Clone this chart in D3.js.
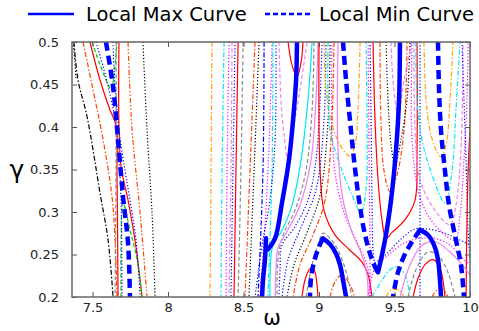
<!DOCTYPE html>
<html>
<head>
<meta charset="utf-8">
<script src="https://cdn.jsdelivr.net/npm/d3@7"></script>
<style>
  body { margin: 0; background: #fff; }
  svg { display: block; }
  text { font-family: "DejaVu Sans", sans-serif; }
</style>
</head>
<body>
<div id="chart"></div>
<script>
// axis settings
const omegaDomain = [7.364, 10];
const gammaDomain = [0.2, 0.5];
const xTicks = [7.5, 8, 8.5, 9, 9.5, 10];
const yTicks = [0.2, 0.25, 0.3, 0.35, 0.4, 0.45, 0.5];
const legendLabels = ["Local Max Curve", "Local Min Curve"];

// thick curves, [omega, gamma]
const maxA = [[8.854,0.5],[8.848,0.455],[8.828,0.408],[8.801,0.361],[8.755,0.311],[8.709,0.269],[8.662,0.256]];
const maxB = [[8.649,0.269],[8.642,0.244],[8.629,0.22],[8.623,0.2]];
const maxC = [[9.026,0.269],[9.073,0.262],[9.113,0.251],[9.139,0.238],[9.159,0.22],[9.179,0.2]];
const maxD = [[9.536,0.5],[9.53,0.432],[9.51,0.373],[9.477,0.314],[9.437,0.267],[9.391,0.229]];
const maxE = [[9.669,0.279],[9.722,0.273],[9.762,0.261],[9.788,0.244],[9.801,0.22],[9.808,0.2]];

const minA = [[7.589,0.5],[7.636,0.447],[7.669,0.385],[7.702,0.318],[7.735,0.264],[7.748,0.2]];
const minB = [[9.026,0.269],[8.993,0.256],[8.967,0.241],[8.947,0.222],[8.94,0.2]];
const minC = [[9.159,0.5],[9.179,0.455],[9.205,0.408],[9.232,0.361],[9.265,0.314],[9.305,0.273],[9.351,0.244],[9.388,0.229]];
const minD = [[9.669,0.279],[9.616,0.265],[9.563,0.248],[9.523,0.229],[9.49,0.2]];
const minE = [[9.788,0.5],[9.795,0.444],[9.808,0.396],[9.834,0.349],[9.861,0.308],[9.907,0.267],[9.94,0.238],[9.96,0.2]];

// thin level curves - left group
const leftK1 = [[7.371,0.5],[7.384,0.476],[7.39,0.455]];
const leftK2 = [[7.377,0.5],[7.404,0.455],[7.464,0.412],[7.55,0.322],[7.603,0.267],[7.636,0.2]];
const leftO1 = [[7.437,0.5],[7.503,0.444],[7.57,0.385],[7.629,0.318],[7.649,0.267],[7.662,0.2]];
const leftR1 = [[7.483,0.5],[7.55,0.455],[7.616,0.42],[7.656,0.402],[7.662,0.349],[7.669,0.2]];
const leftR2 = [[7.675,0.5],[7.675,0.402],[7.689,0.353],[7.735,0.314],[7.781,0.267],[7.828,0.2]];
const leftG1 = [[7.497,0.5],[7.55,0.473],[7.596,0.453],[7.623,0.444],[7.642,0.461],[7.662,0.5]];
const leftG2 = [[7.689,0.2],[7.689,0.267],[7.702,0.311],[7.748,0.279],[7.795,0.244],[7.828,0.2]];
const leftB1 = [[7.523,0.5],[7.576,0.467],[7.616,0.438],[7.649,0.408],[7.675,0.361],[7.689,0.314],[7.695,0.2]];
const leftB2 = [[7.636,0.5],[7.642,0.467],[7.656,0.432],[7.675,0.396],[7.715,0.349],[7.748,0.314],[7.788,0.267],[7.815,0.2]];
const leftGr = [[7.656,0.5],[7.656,0.373],[7.649,0.2]];
const leftO2 = [[7.735,0.5],[7.762,0.396],[7.815,0.299],[7.861,0.2]];
const leftK3 = [[7.834,0.5],[7.861,0.396],[7.894,0.299],[7.914,0.2]];

// middle group, almost vertical
const midY1 = [[8.291,0.5],[8.285,0.349],[8.278,0.2]];
const midC1 = [[8.371,0.5],[8.358,0.349],[8.351,0.2]];
const midM1 = [[8.404,0.5],[8.391,0.349],[8.384,0.2]];
const midV1 = [[8.424,0.5],[8.417,0.349],[8.404,0.2]];
const midB1 = [[8.444,0.5],[8.43,0.349],[8.417,0.2]];
const midR1 = [[8.464,0.5],[8.45,0.349],[8.437,0.2]];
const midGr = [[8.497,0.5],[8.483,0.349],[8.464,0.2]];
const midO1 = [[8.576,0.5],[8.543,0.349],[8.51,0.2]];
const midK1 = [[8.603,0.5],[8.57,0.349],[8.536,0.2]];
const midB2 = [[8.636,0.5],[8.629,0.349],[8.596,0.2]];
const midM2 = [[8.689,0.5],[8.675,0.408],[8.662,0.349],[8.636,0.267],[8.609,0.2]];
const midC2 = [[8.695,0.5],[8.689,0.349],[8.675,0.267],[8.662,0.2]];
const midB3 = [[8.715,0.5],[8.709,0.385],[8.675,0.314],[8.623,0.261],[8.576,0.2]];

// around maxA and the saddle near 9
const sadR1 = [[8.795,0.5],[8.821,0.473],[8.854,0.459],[8.881,0.476],[8.894,0.5]];
const sadV1 = [[8.735,0.5],[8.748,0.432],[8.768,0.391],[8.795,0.361],[8.834,0.402],[8.874,0.444],[8.921,0.5]];
const sadC1 = [[8.954,0.5],[8.927,0.432],[8.881,0.361],[8.821,0.308],[8.748,0.276],[8.702,0.265],[8.682,0.249],[8.675,0.2]];
const sadGr = [[8.967,0.5],[8.954,0.42],[8.914,0.349],[8.841,0.302],[8.762,0.273],[8.728,0.244],[8.722,0.2]];
const sadV2 = [[8.993,0.5],[8.98,0.432],[8.947,0.361],[8.874,0.308],[8.775,0.273],[8.728,0.258],[8.715,0.232],[8.709,0.2]];
const sadB1 = [[9.02,0.5],[9.007,0.432],[8.98,0.361],[8.927,0.314],[8.834,0.281],[8.755,0.261],[8.742,0.232],[8.735,0.2]];
const sadR2 = [[9.0,0.5],[9.007,0.349],[9.033,0.302],[9.106,0.273],[9.205,0.255],[9.285,0.241],[9.325,0.226],[9.351,0.2]];
const sadB2 = [[9.046,0.5],[9.033,0.408],[8.98,0.326],[8.874,0.279],[8.795,0.244],[8.755,0.2]];
const sadK1 = [[9.073,0.5],[9.06,0.408],[9.007,0.32],[8.921,0.276],[8.834,0.238],[8.788,0.2]];
const sadO1 = [[9.099,0.5],[9.086,0.408],[9.04,0.314],[8.96,0.273],[8.874,0.238],[8.828,0.2]];
const sadGr2 = [[8.914,0.2],[8.954,0.238],[8.993,0.261],[9.026,0.275],[9.073,0.269],[9.126,0.255],[9.172,0.234],[9.219,0.2]];
const sadR3 = [[8.887,0.2],[8.907,0.22],[8.934,0.232],[8.954,0.235],[8.974,0.229],[8.987,0.214],[8.993,0.2]];
const sadO2 = [[9.073,0.2],[9.106,0.218],[9.152,0.226],[9.205,0.214],[9.238,0.2]];

// between minC and maxD
const cenY1 = [[9.033,0.5],[9.046,0.444],[9.079,0.408],[9.139,0.379],[9.205,0.366],[9.238,0.379],[9.258,0.42],[9.272,0.5]];
const cenC1 = [[9.06,0.5],[9.06,0.432],[9.079,0.391],[9.152,0.349],[9.219,0.32],[9.278,0.299],[9.311,0.326],[9.318,0.408],[9.311,0.5]];
const cenM1 = [[9.086,0.5],[9.086,0.396],[9.113,0.338],[9.172,0.296],[9.245,0.267],[9.305,0.244],[9.331,0.226],[9.338,0.2]];
const cenV1 = [[9.126,0.5],[9.126,0.373],[9.159,0.314],[9.219,0.276],[9.285,0.249],[9.318,0.226],[9.325,0.2]];
const cenB1 = [[9.338,0.5],[9.345,0.408],[9.351,0.314],[9.358,0.255],[9.371,0.238]];
const cenM2 = [[9.325,0.5],[9.331,0.373],[9.338,0.255],[9.338,0.2]];
const cenR1 = [[9.358,0.5],[9.371,0.408],[9.391,0.338],[9.417,0.291],[9.444,0.269],[9.484,0.276],[9.57,0.291],[9.636,0.314],[9.649,0.373],[9.649,0.5]];
const cenO1 = [[9.404,0.5],[9.41,0.408],[9.43,0.349],[9.47,0.324],[9.517,0.344],[9.563,0.396],[9.583,0.5]];
const cenK1 = [[9.444,0.5],[9.457,0.432],[9.477,0.379],[9.503,0.355],[9.543,0.385],[9.583,0.432],[9.603,0.5]];
const cenV2 = [[9.477,0.5],[9.49,0.455],[9.523,0.414],[9.563,0.455],[9.616,0.5]];

// right group
const rgtB1 = [[9.669,0.5],[9.669,0.2]];
const rgtB2 = [[9.351,0.238],[9.437,0.249],[9.536,0.267],[9.636,0.28],[9.722,0.28],[9.834,0.275],[9.934,0.267],[10.0,0.261]];
const rgtY1 = [[9.695,0.5],[9.709,0.432],[9.735,0.396],[9.775,0.373],[9.808,0.365],[9.841,0.379],[9.868,0.432],[9.887,0.5]];
const rgtC1 = [[9.642,0.5],[9.649,0.432],[9.682,0.385],[9.748,0.344],[9.834,0.311],[9.881,0.349],[9.907,0.42],[9.934,0.5]];
const rgtV1 = [[9.629,0.5],[9.636,0.396],[9.669,0.338],[9.768,0.302],[9.868,0.285],[9.907,0.308],[9.94,0.373],[9.954,0.5]];
const rgtM1 = [[9.616,0.5],[9.616,0.385],[9.656,0.326],[9.722,0.296],[9.815,0.276],[9.901,0.267],[9.934,0.296],[9.96,0.361],[9.98,0.432],[9.987,0.5]];
const rgtB3 = [[9.947,0.5],[9.96,0.432],[9.974,0.361],[9.987,0.279],[10.0,0.244]];
const rgtR1 = [[10.013,0.432],[9.993,0.373],[9.98,0.291],[9.974,0.2]];

// bottom right arches
const botY1 = [[9.444,0.2],[9.47,0.207],[9.503,0.209],[9.536,0.207],[9.563,0.2]];
const botC1 = [[9.351,0.2],[9.404,0.216],[9.47,0.232],[9.523,0.236],[9.57,0.226],[9.603,0.2]];
const botR1 = [[9.623,0.2],[9.656,0.222],[9.702,0.238],[9.755,0.244],[9.801,0.234],[9.834,0.2]];
const botGr = [[9.589,0.2],[9.642,0.232],[9.722,0.253],[9.788,0.249],[9.854,0.229],[9.901,0.2]];
const botV1 = [[9.536,0.2],[9.603,0.238],[9.682,0.261],[9.768,0.265],[9.868,0.253],[9.947,0.238],[10.0,0.226]];
const botO1 = [[9.748,0.2],[9.781,0.208],[9.821,0.209],[9.854,0.2]];
const botM1 = [[9.325,0.2],[9.371,0.234],[9.47,0.251],[9.57,0.264],[9.669,0.269],[9.768,0.269],[9.868,0.261],[9.947,0.246],[10.0,0.238]];

var width = 479;
var height = 331;
var padding = { top: 42, right: 9, bottom: 34, left: 72 };

var dashes = {
  solid: null,
  dashed: "4,2.5",
  dotted: "1.2,2",
  dashdot: "5,2,1.5,2",
  dashdotdot: "5,2,1.5,2,1.5,2"
};

var col = {
  red: "#ff0000", orangered: "#ff4500", orange: "#ffa500", cyan: "#00eaea",
  magenta: "#ff00ff", violet: "#ee82ee", blue: "#0000ff", black: "#000",
  gray: "#8a8a8a", green: "#00cc00"
};

// which thin curve gets which colour / line style
var thinCurves = [
  [leftK1, "black", "dotted"], [leftK2, "black", "dashdot"], [leftO1, "orangered", "dashdot"],
  [leftR1, "red", "solid"], [leftR2, "red", "solid"], [leftG1, "green", "dashed"], [leftG2, "green", "dashed"],
  [leftB1, "blue", "dotted"], [leftB2, "blue", "dotted"], [leftGr, "gray", "dashed"],
  [leftO2, "orangered", "dashdotdot"], [leftK3, "black", "dotted"],
  [midY1, "orange", "dashdot"], [midC1, "cyan", "dashdot"], [midM1, "magenta", "dotted"],
  [midV1, "violet", "dashed"], [midB1, "blue", "dotted"], [midR1, "red", "solid"],
  [midGr, "gray", "dashed"], [midO1, "orangered", "dashdot"], [midK1, "black", "dotted"],
  [midB2, "blue", "dashdot"], [midM2, "magenta", "dotted"], [midC2, "cyan", "dashdot"], [midB3, "blue", "dotted"],
  [sadR1, "red", "solid"], [sadV1, "violet", "dashed"], [sadC1, "cyan", "solid"], [sadGr, "gray", "dashed"],
  [sadV2, "violet", "solid"], [sadB1, "blue", "dotted"], [sadR2, "red", "solid"], [sadB2, "blue", "dotted"],
  [sadK1, "black", "dotted"], [sadO1, "orangered", "dashdot"], [sadGr2, "gray", "dashed"],
  [sadR3, "red", "solid"], [sadO2, "orangered", "dashdot"],
  [cenY1, "orange", "dashdot"], [cenC1, "cyan", "dashdot"], [cenM1, "magenta", "dotted"],
  [cenV1, "violet", "solid"], [cenB1, "blue", "dotted"], [cenM2, "magenta", "dotted"],
  [cenR1, "red", "solid"], [cenO1, "orangered", "dashdot"], [cenK1, "black", "dotted"], [cenV2, "violet", "dashed"],
  [rgtB1, "blue", "dotted"], [rgtB2, "blue", "dotted"], [rgtY1, "orange", "dashdot"], [rgtC1, "cyan", "dashdot"],
  [rgtV1, "violet", "dashed"], [rgtM1, "magenta", "dotted"], [rgtB3, "blue", "dotted"], [rgtR1, "red", "solid"],
  [botY1, "orange", "dashdot"], [botC1, "cyan", "dashdot"], [botR1, "red", "solid"], [botGr, "gray", "dashed"],
  [botV1, "violet", "solid"], [botO1, "orangered", "dashdot"], [botM1, "magenta", "dotted"]
];
var maxCurves = [maxA, maxB, maxC, maxD, maxE];
var minCurves = [minA, minB, minC, minD, minE];

var svg = d3.select("#chart").append("svg")
  .attr("width", width)
  .attr("height", height);

var xscale = d3.scaleLinear().domain(omegaDomain).range([padding.left, width - padding.right]);
var yscale = d3.scaleLinear().domain(gammaDomain).range([height - padding.bottom, padding.top]);

svg.append("clipPath").attr("id", "plotClip")
  .append("rect")
  .attr("x", padding.left).attr("y", padding.top)
  .attr("width", xscale.range()[1] - padding.left)
  .attr("height", yscale.range()[0] - padding.top);

var line = d3.line()
  .x(function (d) { return xscale(d[0]); })
  .y(function (d) { return yscale(d[1]); })
  .curve(d3.curveCatmullRom.alpha(0.5));

var plot = svg.append("g").attr("clip-path", "url(#plotClip)");

plot.selectAll(".thin").data(thinCurves).enter().append("path")
  .attr("class", "thin")
  .attr("d", function (d) { return line(d[0]); })
  .attr("fill", "none")
  .attr("stroke", function (d) { return col[d[1]]; })
  .attr("stroke-width", 1.2)
  .attr("stroke-dasharray", function (d) { return dashes[d[2]]; });

plot.selectAll(".minCurve").data(minCurves).enter().append("path")
  .attr("class", "minCurve")
  .attr("d", line)
  .attr("fill", "none")
  .attr("stroke", "#0000ff")
  .attr("stroke-width", 4.5)
  .attr("stroke-dasharray", "9,5");

plot.selectAll(".maxCurve").data(maxCurves).enter().append("path")
  .attr("class", "maxCurve")
  .attr("d", line)
  .attr("fill", "none")
  .attr("stroke", "#0000ff")
  .attr("stroke-width", 4.5)
  .attr("stroke-linecap", "round");

// axes, ticks pointing inwards on all four sides
var x0 = xscale.range()[0], x1 = xscale.range()[1];
var y0 = yscale.range()[1], y1 = yscale.range()[0];

function styleAxis(g) {
  g.select(".domain").remove();
  g.selectAll(".tick line").attr("stroke", "#555");
  g.selectAll(".tick text").attr("fill", "#222").style("font-size", "13px");
}

svg.append("g")
  .attr("transform", "translate(0," + y1 + ")")
  .call(d3.axisBottom(xscale).tickValues(xTicks).tickSize(-5).tickPadding(6).tickFormat(function (d) { return String(d); }))
  .call(styleAxis);
svg.append("g")
  .attr("transform", "translate(0," + y0 + ")")
  .call(d3.axisTop(xscale).tickValues(xTicks).tickSize(-5).tickFormat(""))
  .call(styleAxis);
svg.append("g")
  .attr("transform", "translate(" + x0 + ",0)")
  .call(d3.axisLeft(yscale).tickValues(yTicks).tickSize(-5).tickPadding(13).tickFormat(function (d) { return String(d); }))
  .call(styleAxis);
svg.append("g")
  .attr("transform", "translate(" + x1 + ",0)")
  .call(d3.axisRight(yscale).tickValues(yTicks).tickSize(-5).tickFormat(""))
  .call(styleAxis);

svg.append("rect")
  .attr("x", x0).attr("y", y0)
  .attr("width", x1 - x0).attr("height", y1 - y0)
  .attr("fill", "none")
  .attr("stroke", "#666")
  .attr("stroke-width", 1.5);

// axis titles
svg.append("text")
  .attr("x", 272).attr("y", 325)
  .attr("text-anchor", "middle")
  .style("font-size", "21px")
  .text("ω");
svg.append("text")
  .attr("x", 17).attr("y", 178)
  .attr("text-anchor", "middle")
  .style("font-size", "25px")
  .text("γ");

// legend
svg.append("line")
  .attr("x1", 28).attr("x2", 74).attr("y1", 14).attr("y2", 14)
  .attr("stroke", "#0000ff").attr("stroke-width", 2.5);
svg.append("text")
  .attr("x", 86).attr("y", 21)
  .style("font-size", "19.5px")
  .text(legendLabels[0]);
svg.append("line")
  .attr("x1", 265).attr("x2", 313).attr("y1", 14).attr("y2", 14)
  .attr("stroke", "#0000ff").attr("stroke-width", 2.5)
  .attr("stroke-dasharray", "5,3");
svg.append("text")
  .attr("x", 319).attr("y", 21)
  .style("font-size", "19.5px")
  .text(legendLabels[1]);
</script>
</body>
</html>
